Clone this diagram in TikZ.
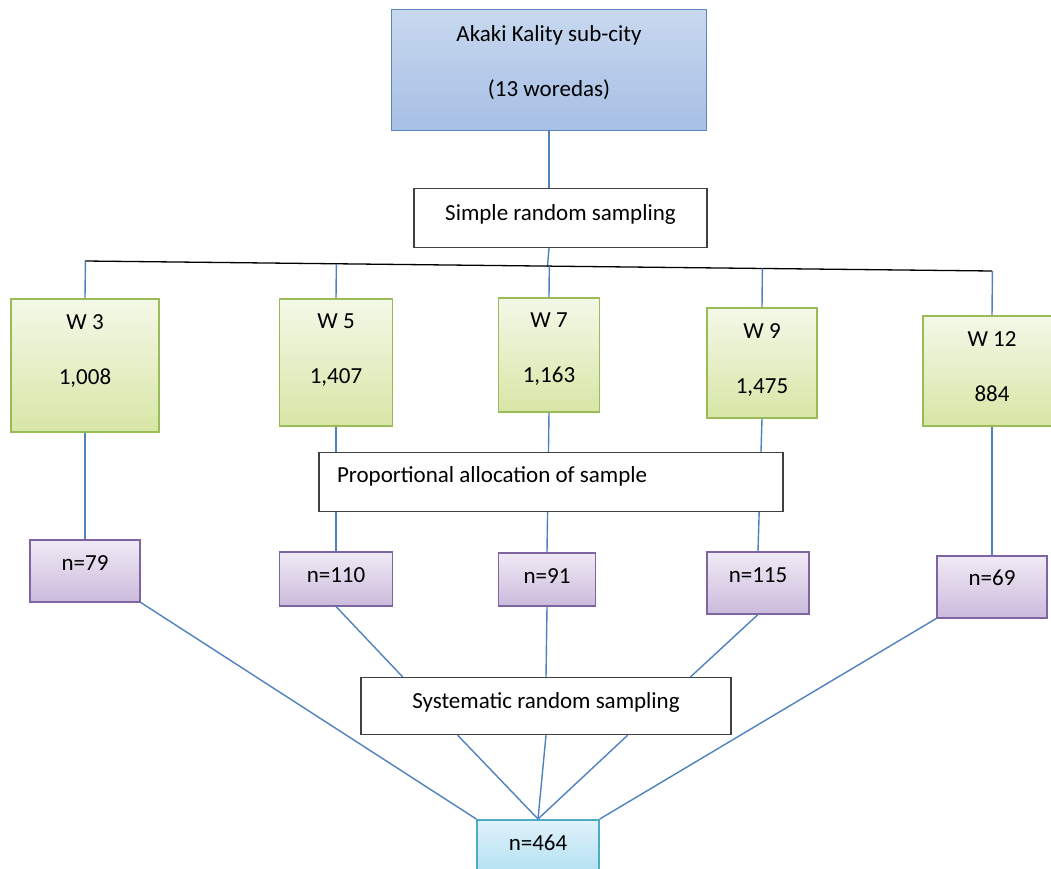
\documentclass[tikz,border=0pt]{standalone}
\usepackage{fontspec}
\setmainfont{Carlito}
\usetikzlibrary{calc}

\definecolor{linkblue}{HTML}{4F81BD}
\definecolor{subtop}{HTML}{C8D8EF}
\definecolor{subbot}{HTML}{A6BFE4}
\definecolor{subline}{HTML}{5B86C0}
\definecolor{wtop}{HTML}{F4F8E8}
\definecolor{wbot}{HTML}{D8E6A6}
\definecolor{wline}{HTML}{9BBB59}
\definecolor{ntop}{HTML}{F0EAF5}
\definecolor{nbot}{HTML}{CBBBDC}
\definecolor{nline}{HTML}{8064A2}
\definecolor{ttop}{HTML}{E0F3FB}
\definecolor{tbot}{HTML}{ACDDF0}
\definecolor{tline}{HTML}{4BACC6}

\begin{document}
\begin{tikzpicture}[x=1pt,y=-1pt,
  box/.style={rectangle,inner ysep=0pt,align=center,anchor=north,
    font=\fontsize{23}{27}\selectfont},
  sz/.style n args={3}{minimum width=#1,text height=#2,text depth=#3},
  subbox/.style={box,draw=subline,line width=1.5pt,top color=subtop,bottom color=subbot},
  wbox/.style={box,draw=wline,line width=1.5pt,top color=wtop,bottom color=wbot},
  nbox/.style={box,draw=nline,line width=1.5pt,top color=ntop,bottom color=nbot},
  totbox/.style={box,draw=tline,line width=1.5pt,top color=ttop,bottom color=tbot},
  stepbox/.style={box,draw=black!75,line width=1.2pt,fill=white},
  link/.style={draw=linkblue,line width=1.4pt},
  bus/.style={draw=black,line width=1.3pt}]

\useasboundingbox (0,0) rectangle (1051,869);

% top level
\node[subbox,sz={315}{87}{34}] (sub) at (549,9) {Akaki Kality sub-city\\[28pt](13 woredas)};
\node[stepbox,sz={293}{32}{27}] (srs) at (560.5,188) {Simple random sampling};

% woredas
\node[wbox,sz={148}{86}{47}] (w3) at (85,298) {W 3\\[28pt]1,008};
\node[wbox,sz={113}{85}{42}] (w5) at (336,298) {W 5\\[28pt]1,407};
\node[wbox,sz={101}{85}{29}] (w7) at (549,297) {W 7\\[28pt]1,163};
\node[wbox,sz={110}{86}{24}] (w9) at (762,307) {W 9\\[28pt]1,475};
\node[wbox,sz={138}{86}{24}] (w12) at (992,315) {W 12\\[28pt]884};

% samples
\node[nbox,sz={110}{31}{31}] (n79) at (85,539) {n=79};
\node[nbox,sz={113}{31}{23}] (n110) at (336,551) {n=110};
\node[nbox,sz={97}{31}{22}] (n91) at (547,552) {n=91};
\node[nbox,sz={102}{31}{31}] (n115) at (758,551) {n=115};
\node[nbox,sz={110}{30}{32}] (n69) at (992,555) {n=69};

\node[stepbox,sz={370}{31}{26}] (sys) at (546,677) {Systematic random sampling};
\node[totbox,sz={122}{31}{30}] (n464) at (538,819) {n=464};

\coordinate (busL) at (85,261);
\coordinate (busR) at (992,271);
\coordinate (s1) at ($(sys.north west)!.114!(sys.north east)$);
\coordinate (s3) at ($(sys.north west)!.889!(sys.north east)$);
\coordinate (t1) at ($(sys.south west)!.262!(sys.south east)$);
\coordinate (t3) at ($(sys.south west)!.72!(sys.south east)$);

\draw[link] (sub.south) -- (sub.south |- srs.north);
\draw[link] (sub.south |- srs.south) -- ($(busL)!(sub.south)!(busR)$);
\draw[bus] (busL) -- (busR);
\foreach \w in {w3,w5,w7,w9,w12}
  \draw[link] ($(busL)!(\w.north)!(busR)$) -- (\w.north);
\foreach \from/\to in {w3/n79, w5/n110, w7/n91, w9/n115, w12/n69}
  \draw[link] (\from.south) -- (\to.north);

\node[stepbox,sz={464}{30}{29},text width=428pt,inner xsep=18pt,align=flush left] (prop) at (551,452) {Proportional allocation of sample};

\draw[link] (n110.south) -- (s1);
\draw[link] (n91.south) -- (sys.north);
\draw[link] (n115.south) -- (s3);
\foreach \from in {t1, sys.south, t3}
  \draw[link] (\from) -- (n464.north);
\draw[link] (n79.south east) -- (n464.north west);
\draw[link] (n69.south west) -- (n464.north east);
\end{tikzpicture}
\end{document}
